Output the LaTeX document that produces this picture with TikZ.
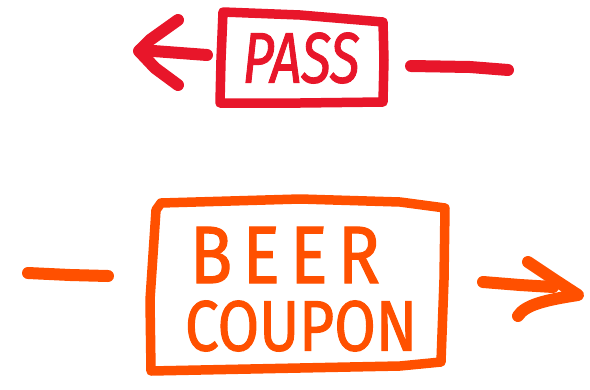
\documentclass[tikz,border=0pt]{standalone}
\usepackage{fontspec}
\newfontfamily\handfont{Fira Sans}[FakeBold=1.6]
\definecolor{passred}{RGB}{232,22,42}
\definecolor{beerorange}{RGB}{255,80,0}
\tikzset{
  hand/.style={line width=9.5pt, line cap=round, line join=round},
  handarrow/.style={line width=12pt, line cap=round, line join=round},
  label/.style={inner sep=0pt, outer sep=0pt},
}
\begin{document}
\begin{tikzpicture}[x=1pt,y=-1pt]
\useasboundingbox (0,0) rectangle (590,389);
% PASS (red)
\draw[hand, passred] (223,12) -- (300,15) -- (383,22) -- (384,60) -- (383,102) -- (300,103) -- (220,103) -- (221,60) -- cycle;
\node[label, text=passred] (pass) at (301,58) {\resizebox{117pt}{50pt}{\handfont\itshape PASS}};
\draw[handarrow, passred] (207,55) -- (140,50);
\draw[handarrow, passred] (178,20) -- (150,40) -- (139,51) -- (155,68) -- (178,85);
\draw[handarrow, passred] (411,66) -- (470,67) -- (508,70);
% BEER COUPON (orange)
\draw[hand, beerorange] (161,203) -- (300,199) -- (400,202) -- (445,208) -- (444,280) -- (441,362) -- (400,366) -- (300,368) -- (151,371) -- (150,300) -- (156,210) -- cycle;
\node[label, text=beerorange] (beer) at (285,255) {\resizebox{190pt}{56pt}{\handfont B\kern0.15em E\kern0.15em E\kern0.15em R}};
\node[label, text=beerorange] (coupon) at (301,326) {\resizebox{232pt}{50pt}{\handfont COUPON}};
\draw[handarrow, beerorange] (28,273) -- (70,275) -- (108,276);
\draw[handarrow, beerorange] (483,282) -- (520,285) -- (553,287);
\draw[handarrow, beerorange] (528,262) -- (555,280) -- (578,295) .. controls (545,300) and (525,305) .. (518,316);
\end{tikzpicture}
\end{document}
